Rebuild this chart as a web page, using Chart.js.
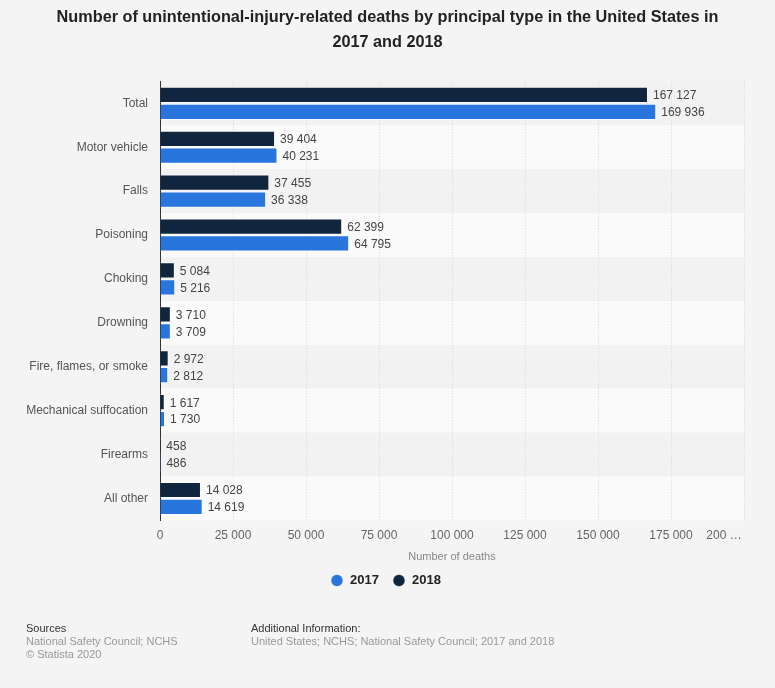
<!DOCTYPE html>
<html>
<head>
<meta charset="utf-8">
<script src="https://cdn.jsdelivr.net/npm/chart.js@4"></script>
<style>
  body { margin: 0; background: #f4f4f4; font-family: "Liberation Sans", Arial, sans-serif; }
  #wrap { position: relative; width: 775px; height: 688px; }
  .foot { position: absolute; font-size: 11px; line-height: 13px; color: #999; }
  .foot b { font-weight: normal; color: #333; }
</style>
</head>
<body>
<div id="wrap">
  <canvas id="myChart"></canvas>
  <div class="foot" style="left:26px; top:622px;"><b>Sources</b><br>National Safety Council; NCHS<br>© Statista 2020</div>
  <div class="foot" style="left:251px; top:622px;"><b>Additional Information:</b><br>United States; NCHS; National Safety Council; 2017 and 2018</div>
</div>
<script>
//---------------------------
// DATA
//---------------------------
var categories = ['Total', 'Motor vehicle', 'Falls', 'Poisoning', 'Choking', 'Drowning',
    'Fire, flames, or smoke', 'Mechanical suffocation', 'Firearms', 'All other'];
var deaths2018 = [167127, 39404, 37455, 62399, 5084, 3710, 2972, 1617, 458, 14028];
var deaths2017 = [169936, 40231, 36338, 64795, 5216, 3709, 2812, 1730, 486, 14619];
var xTicks = [0, 25000, 50000, 75000, 100000, 125000, 150000, 175000, 200000];

var FONT = '"Liberation Sans", Arial, sans-serif';

function fmt(n) {
    return n.toLocaleString('en-US').replace(/,/g, ' ');
}

// alternating row bands behind the bars
const bandsPlugin = {
    id: 'bands',
    beforeDraw(chart) {
        const c = chart.ctx, area = chart.chartArea, y = chart.scales.y;
        const step = (area.bottom - area.top) / categories.length;
        c.save();
        categories.forEach(function (cat, i) {
            c.fillStyle = i % 2 === 0 ? '#f2f2f2' : '#fafafa';
            c.fillRect(area.left, y.getPixelForValue(i) - step / 2, area.right - area.left, step);
        });
        c.restore();
    }
};

// value labels at the bar ends
const valueLabels = {
    id: 'valueLabels',
    afterDatasetsDraw(chart) {
        const c = chart.ctx;
        c.save();
        c.font = '12px ' + FONT;
        c.fillStyle = '#444';
        c.textBaseline = 'middle';
        c.textAlign = 'left';
        chart.data.datasets.forEach(function (ds, di) {
            chart.getDatasetMeta(di).data.forEach(function (bar, i) {
                c.fillText(fmt(ds.data[i]), bar.x + 5, bar.y + 1);
            });
        });
        c.restore();
    }
};

const ctx = document.getElementById('myChart');
ctx.width = 775;
ctx.height = 688;

new Chart(ctx, {
    type: 'bar',
    data: {
        labels: categories,
        datasets: [{
            label: '2018',
            data: deaths2018,
            backgroundColor: '#10263e',
            borderColor: 'rgba(255,255,255,0.5)',
            borderWidth: 1,
            categoryPercentage: 0.77,
            barPercentage: 0.96
        }, {
            label: '2017',
            data: deaths2017,
            backgroundColor: '#2876dd',
            borderColor: 'rgba(255,255,255,0.5)',
            borderWidth: 1,
            categoryPercentage: 0.77,
            barPercentage: 0.96
        }]
    },
    options: {
        indexAxis: 'y',
        responsive: false,
        animation: false,
        devicePixelRatio: 1,
        layout: { padding: { left: 0, right: 0, top: 0, bottom: 91 } },
        scales: {
            x: {
                min: 0,
                max: 200000,
                afterBuildTicks: function (axis) {
                    axis.ticks = xTicks.map(function (v) { return { value: v }; });
                },
                afterFit: function (axis) { axis.paddingRight = 31; },
                ticks: {
                    color: '#666',
                    font: { size: 12, family: FONT },
                    padding: 8,
                    maxRotation: 0,
                    autoSkip: false,
                    callback: function (v) {
                        return v === 200000 ? '200 …' + '\u00a0'.repeat(12) : fmt(v);
                    }
                },
                grid: {
                    color: '#d6d6d6',
                    drawTicks: false,
                    tickLength: 0
                },
                border: { display: false, dash: [1, 2] },
                title: {
                    display: true,
                    text: 'Number of deaths',
                    color: '#888',
                    font: { size: 11, family: FONT },
                    padding: { top: 0, bottom: 0 }
                }
            },
            y: {
                afterFit: function (axis) { axis.width = 160; },
                ticks: {
                    color: '#555',
                    font: { size: 12, family: FONT },
                    padding: 12
                },
                grid: { display: false, drawTicks: false },
                border: { display: true, color: '#333', width: 1 }
            }
        },
        plugins: {
            title: {
                display: true,
                text: ['Number of unintentional-injury-related deaths by principal type in the United States in',
                       '2017 and 2018'],
                color: '#222',
                font: { size: 16.25, weight: 'bold', family: FONT, lineHeight: 1.55 },
                padding: { top: 5, bottom: 26 }
            },
            legend: {
                position: 'bottom',
                labels: {
                    usePointStyle: true,
                    pointStyle: 'circle',
                    boxWidth: 13,
                    boxHeight: 8.5,
                    padding: 10,
                    color: '#222',
                    font: { size: 13, weight: 'bold', family: FONT },
                    generateLabels: function (chart) {
                        var items = Chart.defaults.plugins.legend.labels.generateLabels(chart);
                        items.forEach(function (it) { it.text = it.text + '\u00a0'; });
                        return items;
                    },
                    sort: function (a, b) { return b.datasetIndex - a.datasetIndex; }
                }
            },
            tooltip: { enabled: false }
        }
    },
    plugins: [bandsPlugin, valueLabels]
});
</script>
</body>
</html>
